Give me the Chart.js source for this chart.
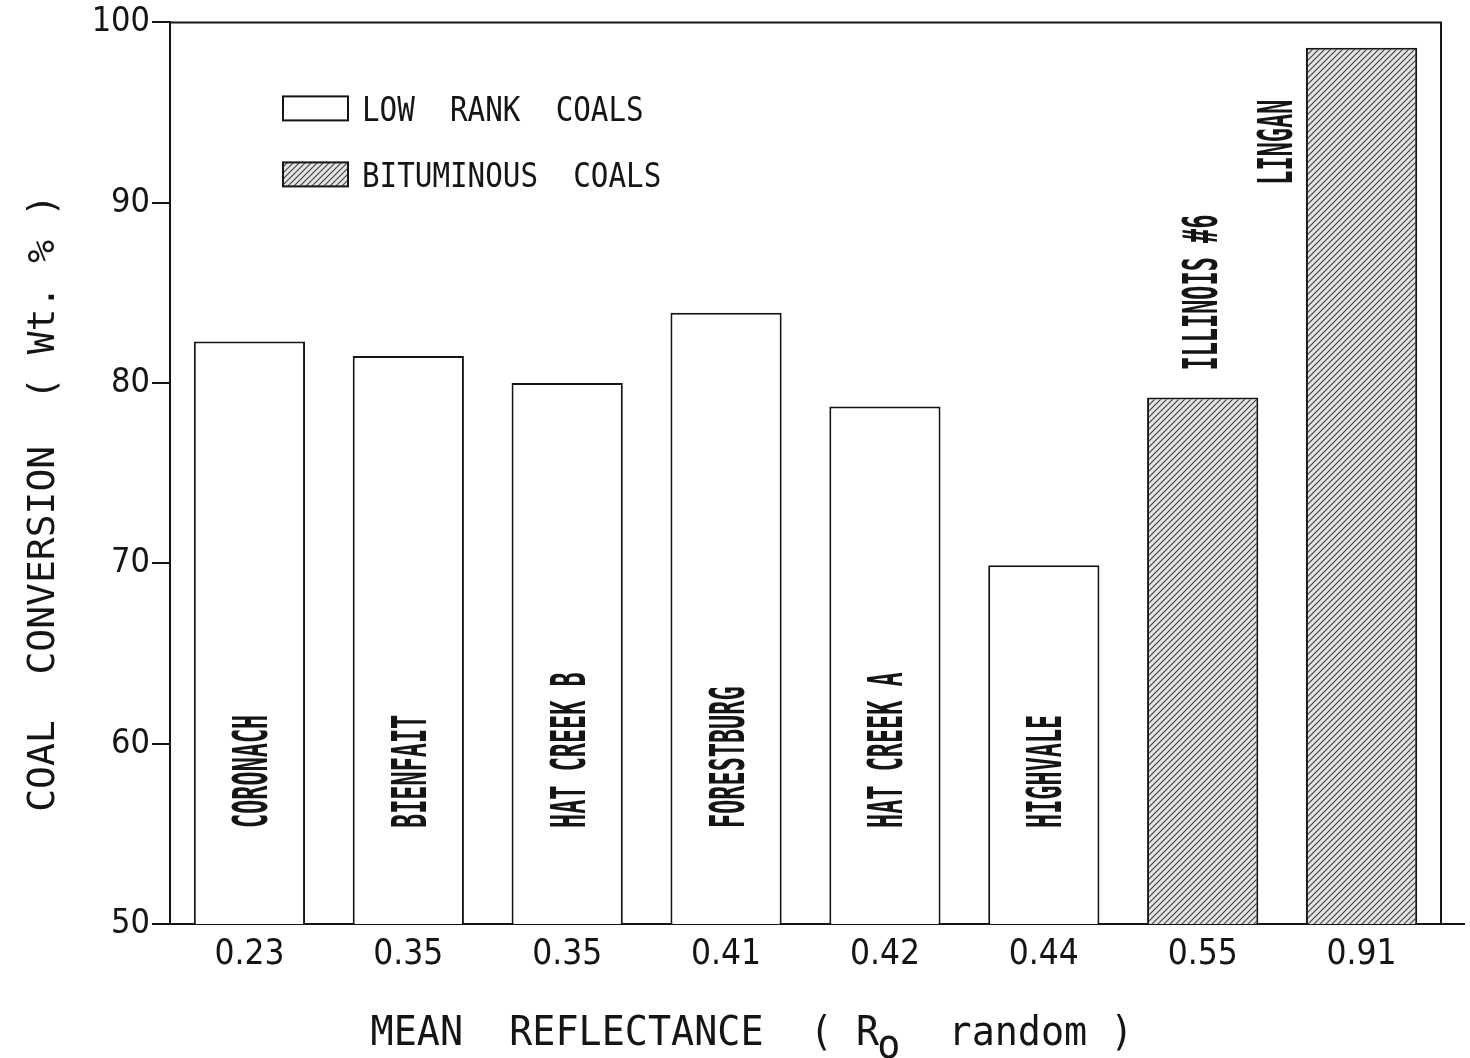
<!DOCTYPE html>
<html>
<head>
<meta charset="utf-8">
<script src="https://cdn.jsdelivr.net/npm/chart.js@4.4.1/dist/chart.umd.min.js"></script>
<style>
  html, body { margin: 0; padding: 0; background: #fff; }
  #wrap { width: 1470px; height: 1058px; }
</style>
</head>
<body>
<div id="wrap"><canvas id="grafico" width="1470" height="1058"></canvas></div>
<script>
// reflectance values used as x labels
const categories = ["0.23", "0.35", "0.35", "0.41", "0.42", "0.44", "0.55", "0.91"];
const coalNames = ["CORONACH", "BIENFAIT", "HAT CREEK B", "FORESTBURG", "HAT CREEK A", "HIGHVALE", "ILLINOIS #6", "LINGAN"];
const lowRankValues = [82.3, 81.5, 80.0, 83.9, 78.7, 69.9, null, null];
const bituminousValues = [null, null, null, null, null, null, 79.2, 98.6];
const seriesNames = ["LOW  RANK  COALS", "BITUMINOUS  COALS"];

const ink = "#151515";
const mono = "'DejaVu Sans Mono', 'Liberation Mono', monospace";

// hatch pattern for the bituminous bars
function makeHatch() {
  const s = 6;
  const c = document.createElement("canvas");
  c.width = s;
  c.height = s;
  const g = c.getContext("2d");
  g.fillStyle = "#e4e4e4";
  g.fillRect(0, 0, s, s);
  g.strokeStyle = "#3e3e3e";
  g.lineWidth = 1.1;
  g.beginPath();
  g.moveTo(0, s); g.lineTo(s, 0);
  g.moveTo(-1, 1); g.lineTo(1, -1);
  g.moveTo(s - 1, s + 1); g.lineTo(s + 1, s - 1);
  g.stroke();
  return g.createPattern(c, "repeat");
}
const hatch = makeHatch();

function stretchedText(ctx, text, x, y, font, sx) {
  ctx.save();
  ctx.translate(x, y);
  ctx.scale(sx, 1);
  ctx.font = font;
  ctx.fillText(text, 0, 0);
  ctx.restore();
}

// frame: top and right border, x axis running past the right border
const framePlugin = {
  id: "frame",
  afterDraw(chart) {
    const { ctx, chartArea: a } = chart;
    ctx.save();
    ctx.strokeStyle = ink;
    ctx.lineWidth = 2;
    ctx.beginPath();
    ctx.moveTo(a.left, a.top);
    ctx.lineTo(a.right, a.top);
    ctx.lineTo(a.right, a.bottom);
    ctx.moveTo(a.right, a.bottom);
    ctx.lineTo(a.right + 24, a.bottom);
    ctx.stroke();
    ctx.restore();
  },
};

// vertical coal names
const namesPlugin = {
  id: "names",
  afterDatasetsDraw(chart) {
    const { ctx, chartArea: a } = chart;
    const font = "bold 48px " + mono;
    const sx = 0.49;
    const capH = 35;
    ctx.save();
    ctx.fillStyle = ink;
    ctx.textAlign = "left";
    ctx.textBaseline = "alphabetic";
    chart.data.datasets.forEach((ds, di) => {
      const meta = chart.getDatasetMeta(di);
      meta.data.forEach((bar, i) => {
        if (ds.data[i] == null) return;
        const name = coalNames[i];
        ctx.font = font;
        const len = ctx.measureText(name).width * sx;
        let cx = bar.x;
        let startY;
        if (di === 0) {
          // low rank: names sit near the foot of the bar
          startY = a.bottom - 96;
        } else if (bar.y - 27 - len > a.top + 20) {
          startY = bar.y - 27;
          cx = bar.x - 3;
        } else {
          startY = bar.y + 137;
          cx = bar.x - bar.width / 2 - 31;
        }
        ctx.save();
        ctx.translate(cx + capH / 2, startY);
        ctx.rotate(-Math.PI / 2);
        ctx.scale(sx, 1);
        ctx.fillText(name, 0, 0);
        ctx.restore();
      });
    });
    ctx.restore();
  },
};

// legend boxes inside the plot
const legendPlugin = {
  id: "legendBoxes",
  afterDraw(chart) {
    const { ctx, chartArea: a } = chart;
    ctx.save();
    chart.data.datasets.forEach((ds, i) => {
      const bx = a.left + 113;
      const by = a.top + 74 + i * 66;
      ctx.fillStyle = ds.backgroundColor;
      ctx.fillRect(bx, by, 65, 24);
      ctx.strokeStyle = ink;
      ctx.lineWidth = 2;
      ctx.strokeRect(bx, by, 65, 24);
      ctx.fillStyle = ink;
      ctx.textBaseline = "alphabetic";
      ctx.textAlign = "left";
      stretchedText(ctx, ds.label, bx + 79, by + 25, "34px " + mono, 0.86);
    });
    ctx.restore();
  },
};

// axis titles
const titlesPlugin = {
  id: "axisTitles",
  afterDraw(chart) {
    const { ctx } = chart;
    ctx.save();
    ctx.fillStyle = ink;
    ctx.textBaseline = "alphabetic";

    // y title
    ctx.font = "38px " + mono;
    ctx.textAlign = "center";
    ctx.save();
    ctx.translate(42 + 12, 503);
    ctx.rotate(-Math.PI / 2);
    ctx.fillText("COAL  CONVERSION  ( Wt. % )", 0, 0);
    ctx.restore();

    // x title with subscript o
    ctx.font = "40px " + mono;
    ctx.textAlign = "left";
    const partA = "MEAN  REFLECTANCE  ( R";
    const partB = "  random )";
    ctx.save();
    ctx.translate(752, 0);
    ctx.scale(0.96, 1);
    const wA = ctx.measureText(partA).width;
    const wO = ctx.measureText("o").width;
    const wB = ctx.measureText(partB).width;
    let x = -(wA + wO + wB) / 2;
    const base = 1045;
    ctx.fillText(partA, x, base);
    x += wA;
    ctx.fillText("o", x - 2, base + 13);
    x += wO;
    ctx.fillText(partB, x, base);
    ctx.restore();
    ctx.restore();
  },
};

new Chart(document.getElementById("grafico"), {
  type: "bar",
  data: {
    labels: categories,
    datasets: [
      {
        label: seriesNames[0],
        data: lowRankValues,
        backgroundColor: "#ffffff",
        borderColor: ink,
        borderWidth: 2,
      },
      {
        label: seriesNames[1],
        data: bituminousValues,
        backgroundColor: hatch,
        borderColor: ink,
        borderWidth: 2,
      },
    ],
  },
  options: {
    responsive: false,
    animation: false,
    events: [],
    grouped: false,
    barPercentage: 0.7,
    categoryPercentage: 1.0,
    layout: { padding: { top: 22, right: 29, left: 0, bottom: 0 } },
    plugins: {
      legend: { display: false },
      tooltip: { enabled: false },
    },
    scales: {
      x: {
        grid: { display: false },
        border: { display: true, color: ink, width: 2 },
        ticks: {
          color: ink,
          padding: 2,
          font: { family: "'DejaVu Sans Condensed', 'DejaVu Sans', sans-serif", size: 35 },
        },
        afterFit(scale) { scale.height = 134; },
      },
      y: {
        min: 50,
        max: 100,
        grid: {
          drawOnChartArea: false,
          drawTicks: true,
          tickLength: 18,
          color: ink,
          lineWidth: 2,
        },
        border: { display: true, color: ink, width: 2 },
        ticks: {
          stepSize: 10,
          color: ink,
          padding: 2,
          font: { family: "'Liberation Sans Narrow', 'DejaVu Sans Condensed', sans-serif", size: 34 },
        },
        afterFit(scale) { scale.width = 170; },
      },
    },
  },
  plugins: [framePlugin, namesPlugin, legendPlugin, titlesPlugin],
});
</script>
</body>
</html>
